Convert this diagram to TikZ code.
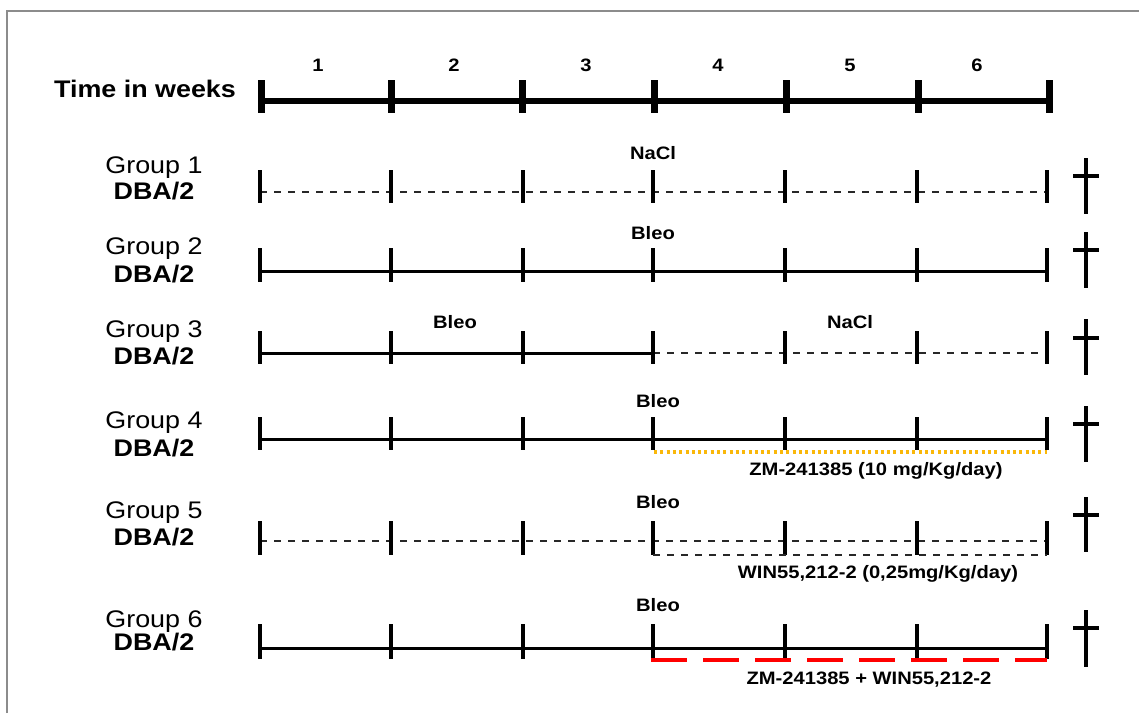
\documentclass[tikz,border=0pt]{standalone}
\usepackage{fontspec}
\setmainfont{Liberation Sans}[FakeStretch=1.12]
\definecolor{dotorange}{RGB}{250,184,10}
\definecolor{dashgray}{RGB}{40,40,40}
\definecolor{framegray}{RGB}{140,140,140}
\tikzset{
  bigtext/.style={font=\fontsize{24}{28}\selectfont, anchor=base, inner sep=0pt},
  bigbold/.style={bigtext, font=\bfseries\fontsize{24}{28}\selectfont},
  smalltext/.style={font=\bfseries\fontsize{18}{21}\selectfont, anchor=base, inner sep=0pt},
  axisline/.style={line width=6pt},
  axistick/.style={line width=7pt},
  solidrow/.style={line width=3pt},
  dashrow/.style={line width=2.3pt, dashgray, dash pattern=on 7pt off 7pt},
  rowtick/.style={line width=3.5pt},
  orangedots/.style={line width=3.5pt, dotorange, dash pattern=on 3pt off 3.3pt},
  reddash/.style={line width=4pt, red, dash pattern=on 36pt off 16pt},
  crossline/.style={line width=4pt},
  framel/.style={line width=1.5pt, framegray}
}
\newcommand\rowticks[2]{%
  \foreach \xx in {260,391,523,653,785,917,1047} \draw[rowtick] (\xx,#1) -- (\xx,#2);}
\newcommand\deathcross[3]{%
  \draw[crossline] (1086,#1) -- (1086,#2);
  \draw[crossline] (1073,#3) -- (1099,#3);}
\begin{document}
\begin{tikzpicture}[x=1pt,y=-1pt]
\useasboundingbox (0,0) rectangle (1139,713);
\fill[white] (0,0) rectangle (1139,713);
% frame
\draw[framel] (7,713) -- (7,11) -- (1139,11);

% time axis
\node[bigbold] (tw) at (145,97) {Time in weeks};
\coordinate (ax0) at (261,100.5);
\coordinate (ax1) at (1049,100.5);
\draw[axisline] (ax0) -- (ax1);
\foreach \xx in {261,391,522,654,786,918,1049} \draw[axistick] (\xx,80) -- (\xx,113);
\foreach \xx/\n in {318/1,454/2,586/3,718/4,850/5,977/6}
  \node[smalltext] (w\n) at (\xx,71) {\n};

% group labels
\foreach \g/\ya/\yb in {1/173/199, 2/254/282, 3/337/364, 4/428/456, 5/518/545, 6/627/650}{
  \node[bigtext] (g\g) at (154,\ya) {Group \g};
  \node[bigbold] (s\g) at (154,\yb) {DBA/2};
}

% group 1 : NaCl
\coordinate (r1a) at (260,192); \coordinate (r1b) at (1047,192);
\draw[dashrow] (r1a) -- (r1b);
\rowticks{170}{203}
\node[smalltext] (n1) at (653,159.5) {NaCl};
\deathcross{158}{214}{176}

% group 2 : Bleo
\coordinate (r2a) at (260,271); \coordinate (r2b) at (1047,271);
\draw[solidrow] (r2a) -- (r2b);
\rowticks{248}{282}
\node[smalltext] (n2) at (653,239.5) {Bleo};
\deathcross{232}{288}{250}

% group 3 : Bleo then NaCl
\coordinate (r3a) at (260,353); \coordinate (r3m) at (653,353); \coordinate (r3b) at (1047,353);
\draw[solidrow] (r3a) -- (r3m);
\draw[dashrow] (r3m) -- (r3b);
\rowticks{331}{364}
\node[smalltext] (n3a) at (455,328) {Bleo};
\node[smalltext] (n3b) at (850,328) {NaCl};
\deathcross{319}{375}{338}

% group 4 : Bleo + ZM-241385
\coordinate (r4a) at (260,439); \coordinate (r4b) at (1047,439);
\draw[solidrow] (r4a) -- (r4b);
\rowticks{417}{450}
\coordinate (o4a) at (654,452); \coordinate (o4b) at (1047,452);
\draw[orangedots] (o4a) -- (o4b);
\node[smalltext] (n4) at (658,407.5) {Bleo};
\node[smalltext] (d4) at (876,475) {ZM-241385 (10 mg/Kg/day)};
\deathcross{406}{462}{424}

% group 5 : Bleo + WIN55,212-2
\coordinate (r5a) at (260,541); \coordinate (r5b) at (1047,541);
\draw[dashrow] (r5a) -- (r5b);
\rowticks{521}{555}
\coordinate (o5a) at (653,555); \coordinate (o5b) at (1047,555);
\draw[dashrow] (o5a) -- (o5b);
\node[smalltext] (n5) at (658,508) {Bleo};
\node[smalltext] (d5) at (878,578) {WIN55,212-2 (0,25mg/Kg/day)};
\deathcross{497}{552}{515}

% group 6 : Bleo + ZM-241385 + WIN55,212-2
\coordinate (r6a) at (260,648); \coordinate (r6b) at (1047,648);
\draw[solidrow] (r6a) -- (r6b);
\rowticks{624}{659}
\coordinate (o6a) at (651,660); \coordinate (o6b) at (1047,660);
\draw[reddash] (o6a) -- (o6b);
\node[smalltext] (n6) at (658,611) {Bleo};
\node[smalltext] (d6) at (869,684) {ZM-241385 + WIN55,212-2};
\deathcross{610}{667}{628}
\end{tikzpicture}
\end{document}
